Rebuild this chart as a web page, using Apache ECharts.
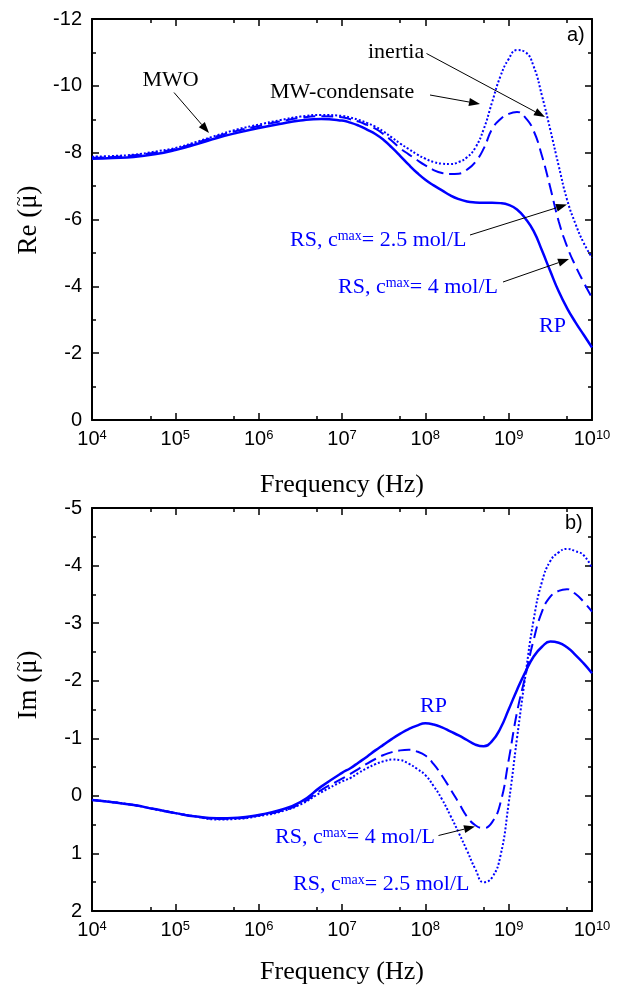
<!DOCTYPE html>
<html>
<head>
<meta charset="utf-8">
<script src="https://cdn.jsdelivr.net/npm/echarts@6/dist/echarts.min.js"></script>
<style>
html,body{margin:0;padding:0;background:#fff;}
#chart{width:624px;height:986px;}
</style>
</head>
<body>
<div id="chart"></div>
<script>
// ---------- DATA (x = log10 of frequency in Hz) ----------
const xTickExponents = [4, 5, 6, 7, 8, 9, 10];
const xMinorTicks = [4.699, 5.699, 6.699, 7.699, 8.699, 9.699];

// sampling positions, log10(f / Hz)
const logF = [4, 4.25, 4.5, 4.75, 5, 5.25, 5.5, 5.75, 6, 6.25, 6.5, 6.75, 7,
  7.1, 7.2, 7.3, 7.4, 7.5, 7.6, 7.7, 7.8, 7.9, 8, 8.1, 8.2, 8.3, 8.4, 8.5, 8.6, 8.7, 8.8, 8.9,
  9, 9.1, 9.2, 9.3, 9.4, 9.5, 9.6, 9.7, 9.8, 9.9, 10];

// Panel a) Re(mu~)
const reRP = [-7.82, -7.84, -7.87, -7.95, -8.08, -8.25, -8.44, -8.60, -8.74, -8.86, -8.96, -9.01, -8.96,
  -8.90, -8.81, -8.69, -8.56, -8.38, -8.15, -7.90, -7.64, -7.40, -7.19, -7.02, -6.87, -6.72, -6.61, -6.54, -6.51, -6.50, -6.50, -6.49,
  -6.44, -6.30, -6.03, -5.65, -5.07, -4.45, -3.85, -3.35, -2.93, -2.55, -2.17];
const reRS4 = [-7.85, -7.87, -7.92, -8.00, -8.11, -8.29, -8.49, -8.66, -8.80, -8.93, -9.04, -9.09, -9.06,
  -9.00, -8.93, -8.83, -8.72, -8.55, -8.35, -8.13, -7.95, -7.78, -7.62, -7.48, -7.39, -7.36, -7.37, -7.49, -7.72, -8.12, -8.70, -9.00,
  -9.16, -9.22, -9.05, -8.65, -7.90, -6.95, -5.95, -5.20, -4.62, -4.12, -3.66];
const reRS25 = [-7.88, -7.90, -7.94, -8.03, -8.14, -8.32, -8.52, -8.70, -8.84, -8.97, -9.08, -9.13, -9.10,
  -9.05, -8.98, -8.89, -8.78, -8.63, -8.45, -8.27, -8.11, -7.95, -7.82, -7.72, -7.67, -7.66, -7.72, -7.86, -8.15, -8.70, -9.50, -10.28,
  -10.80, -11.07, -11.01, -10.58, -9.70, -8.68, -7.61, -6.60, -5.88, -5.30, -4.86];

// Panel b) Im(mu~)
const imRP = [0.07, 0.11, 0.16, 0.23, 0.30, 0.36, 0.39, 0.38, 0.33, 0.25, 0.11, -0.16, -0.40,
  -0.48, -0.58, -0.68, -0.79, -0.89, -0.99, -1.08, -1.16, -1.22, -1.26, -1.24, -1.19, -1.12, -1.05, -0.97, -0.89, -0.86, -0.95, -1.17,
  -1.50, -1.84, -2.15, -2.42, -2.59, -2.68, -2.66, -2.58, -2.45, -2.30, -2.13];
const imRS4 = [0.07, 0.11, 0.16, 0.23, 0.30, 0.36, 0.40, 0.39, 0.34, 0.27, 0.14, -0.10, -0.30,
  -0.38, -0.47, -0.56, -0.64, -0.71, -0.76, -0.79, -0.80, -0.77, -0.70, -0.55, -0.35, -0.12, 0.12, 0.36, 0.51, 0.56, 0.46, 0.13,
  -0.62, -1.45, -2.08, -2.71, -3.20, -3.46, -3.56, -3.59, -3.51, -3.37, -3.20];
const imRS25 = [0.07, 0.11, 0.16, 0.23, 0.30, 0.36, 0.41, 0.40, 0.35, 0.28, 0.15, -0.06, -0.25,
  -0.31, -0.40, -0.48, -0.55, -0.60, -0.63, -0.62, -0.56, -0.47, -0.36, -0.17, 0.06, 0.34, 0.64, 0.95, 1.27, 1.50, 1.42, 1.05,
  0.13, -1.00, -2.08, -3.06, -3.72, -4.08, -4.23, -4.29, -4.25, -4.18, -3.95];

// ---------- CHART ----------
const SANS = "'Liberation Sans', Arial, sans-serif";
const SERIF = "'Liberation Serif', 'Times New Roman', serif";
const BLUE = '#0000FF';
const pairs = (xs, ys) => ys.map((v, i) => [xs[i], v]);

const grids = [
  {left: 92, top: 19, width: 500, height: 401},
  {left: 92, top: 508, width: 500, height: 403}
];

function xAxesFor(g, nameGap) {
  const common = {type: 'value', gridIndex: g, min: 4, max: 10, interval: 1, splitLine: {show: false}};
  return [
    Object.assign({}, common, {
      position: 'bottom',
      axisLine: {show: true, onZero: false, lineStyle: {color: '#000', width: 2}},
      axisTick: {show: true, inside: true, length: 7, lineStyle: {color: '#000', width: 1.5}},
      axisLabel: {
        show: true, margin: 9, color: '#000',
        formatter: v => '{b|10}{s|' + v + '}',
        rich: {
          b: {fontFamily: SANS, fontSize: 20, color: '#000'},
          s: {fontFamily: SANS, fontSize: 13, color: '#000', verticalAlign: 'top'}
        }
      },
      name: 'Frequency (Hz)', nameLocation: 'middle', nameGap: nameGap,
      nameTextStyle: {fontFamily: SERIF, fontSize: 26, color: '#000'}
    }),
    Object.assign({}, common, {
      position: 'top',
      axisLine: {show: true, onZero: false, lineStyle: {color: '#000', width: 2}},
      axisTick: {show: true, inside: true, length: 7, lineStyle: {color: '#000', width: 1.5}},
      axisLabel: {show: false}
    }),
    Object.assign({}, common, {
      position: 'bottom',
      axisLine: {show: false, onZero: false},
      axisTick: {show: true, inside: true, length: 4, customValues: xMinorTicks, lineStyle: {color: '#000', width: 1.5}},
      axisLabel: {show: false}
    }),
    Object.assign({}, common, {
      position: 'top',
      axisLine: {show: false, onZero: false},
      axisTick: {show: true, inside: true, length: 4, customValues: xMinorTicks, lineStyle: {color: '#000', width: 1.5}},
      axisLabel: {show: false}
    })
  ];
}

function yAxesFor(g, min, max, interval) {
  const common = {
    type: 'value', gridIndex: g, min: min, max: max, interval: interval, inverse: true,
    splitLine: {show: false},
    axisLine: {show: true, onZero: false, lineStyle: {color: '#000', width: 2}},
    axisTick: {show: true, inside: true, length: 7, lineStyle: {color: '#000', width: 1.5}},
    minorTick: {show: true, splitNumber: 2, length: 4, lineStyle: {color: '#000', width: 1.5}}
  };
  return [
    Object.assign({}, common, {
      position: 'left',
      axisLabel: {show: true, margin: 10, color: '#000', fontFamily: SANS, fontSize: 20}
    }),
    Object.assign({}, common, {position: 'right', axisLabel: {show: false}})
  ];
}

const xAxis = [].concat(xAxesFor(0, 52), xAxesFor(1, 48));
const yAxis = [].concat(yAxesFor(0, -12, 0, 2), yAxesFor(1, -5, 2, 1));

function line(data, xi, yi, type, width) {
  return {
    type: 'line', data: data, xAxisIndex: xi, yAxisIndex: yi,
    showSymbol: false, symbol: 'none', smooth: 0.5, animation: false,
    lineStyle: {color: BLUE, width: width, type: type, cap: 'butt'},
    z: 3
  };
}

const series = [
  line(pairs(logF, reRP), 0, 0, 'solid', 2.5),
  line(pairs(logF, reRS4), 0, 0, [12, 6], 2),
  line(pairs(logF, reRS25), 0, 0, [2, 2], 2),
  line(pairs(logF, imRP), 4, 2, 'solid', 2.5),
  line(pairs(logF, imRS4), 4, 2, [12, 6], 2),
  line(pairs(logF, imRS25), 4, 2, [2, 2], 2)
];

// ---------- ANNOTATIONS ----------
function arrow(x1, y1, x2, y2) {
  const a = Math.atan2(y2 - y1, x2 - x1);
  const L = 11, W = 4;
  const bx = x2 - L * Math.cos(a), by = y2 - L * Math.sin(a);
  return [
    {type: 'line', shape: {x1: x1, y1: y1, x2: bx, y2: by}, style: {stroke: '#000', lineWidth: 1}, z: 10},
    {type: 'polygon', shape: {points: [[x2, y2], [bx + W * Math.sin(a), by - W * Math.cos(a)], [bx - W * Math.sin(a), by + W * Math.cos(a)]]}, style: {fill: '#000'}, z: 10}
  ];
}
function txt(text, x, y, color, font, align) {
  return {type: 'text', x: x, y: y, z: 10,
    style: {text: text, fill: color, font: font, align: align || 'left', verticalAlign: 'middle'}};
}
function rsTxt(conc, x, y) {
  return {type: 'text', x: x, y: y, z: 10,
    style: {
      text: '{n|RS, c}{s|max}{n|= ' + conc + ' mol/L}',
      fill: BLUE, align: 'left', verticalAlign: 'middle',
      rich: {
        n: {fontFamily: SERIF, fontSize: 22, fill: BLUE},
        s: {fontFamily: SERIF, fontSize: 14, fill: BLUE, verticalAlign: 'top'}
      }
    }};
}
// rotated y-axis title "Re (μ̃)" with a tilde drawn over μ
function yTitle(prefix, cx, cy) {
  return {
    type: 'group', x: cx, y: cy, rotation: Math.PI / 2, z: 10,
    children: [
      {type: 'text', x: 0, y: 0,
        style: {text: prefix + ' (μ)', font: '27px ' + SERIF, fill: '#000', align: 'center', verticalAlign: 'middle'}},
      {type: 'text', x: 18.5, y: -9,
        style: {text: '~', font: '18px ' + SERIF, fill: '#000', align: 'center', verticalAlign: 'middle'}}
    ]
  };
}
const F_SERIF = '22px ' + SERIF;
const F_SANS = '20px ' + SANS;
const graphic = [].concat(
  yTitle('Re', 29, 220),
  yTitle('Im', 29, 685),
  txt('MWO', 170.5, 80, '#000', F_SERIF, 'center'),
  arrow(174, 92.5, 209, 133),
  txt('MW-condensate', 270, 92.5, '#000', F_SERIF),
  arrow(430, 95, 480, 104),
  txt('inertia', 368, 52.5, '#000', F_SERIF),
  arrow(426.5, 53.5, 545, 117),
  txt('a)', 567, 35, '#000', F_SANS),
  rsTxt('2.5', 290, 240),
  arrow(470, 235, 567, 204.5),
  rsTxt('4', 338, 287.5),
  arrow(503, 282, 569, 259),
  txt('RP', 539, 326.5, BLUE, F_SERIF),
  txt('b)', 565, 523, '#000', F_SANS),
  txt('RP', 420, 706.5, BLUE, F_SERIF),
  rsTxt('4', 275, 837.5),
  arrow(438.5, 835.5, 475, 826.5),
  rsTxt('2.5', 293, 884.5)
);

const chart = echarts.init(document.getElementById('chart'), null, {renderer: 'canvas'});
chart.setOption({
  backgroundColor: '#fff',
  animation: false,
  grid: grids,
  xAxis: xAxis,
  yAxis: yAxis,
  series: series,
  graphic: graphic
});
</script>
</body>
</html>
